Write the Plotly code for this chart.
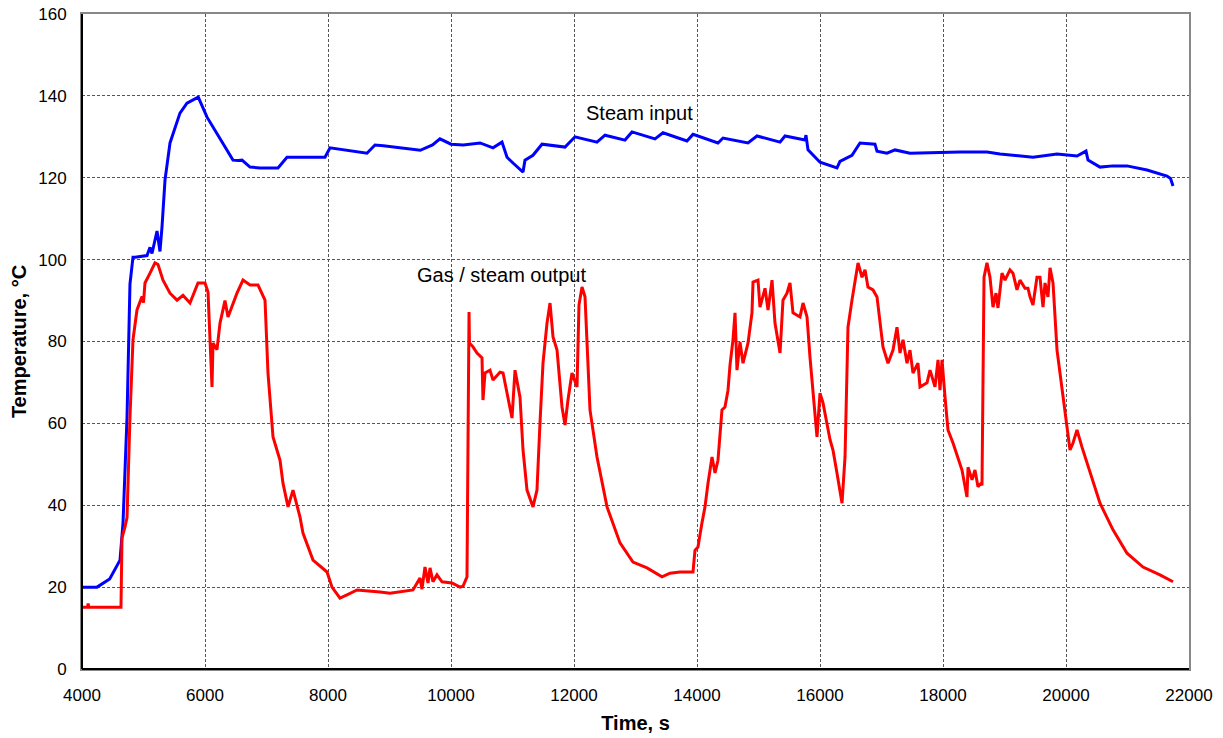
import plotly.graph_objects as go

# Steam input (blue)
steam_t = [4000, 4244, 4450, 4618, 4667, 4732, 4780, 4829, 4862, 5057, 5106, 5138, 5220, 5268, 5301,
           5350, 5431, 5593, 5707, 5870, 5890, 6033, 6293, 6455, 6540, 6602, 6732, 6894, 7187, 7333,
           7951, 8033, 8634, 8764, 8900, 9200, 9500, 9700, 9820, 10000, 10200, 10472, 10683, 10829,
           10911, 11008, 11171, 11203, 11333, 11480, 11854, 12016, 12374, 12504, 12829, 12943, 13317,
           13447, 13837, 13935, 14341, 14423, 14829, 14976, 15350, 15431, 15756, 15772, 15805, 16000,
           16276, 16325, 16520, 16650, 16894, 16927, 17089, 17220, 17463, 18276, 18715, 18927, 19463,
           19854, 20179, 20325, 20358, 20553, 20764, 20992, 21317, 21642, 21700, 21740]
steam_T = [20, 20, 22, 26.6, 35.7, 61.5, 94, 100.6, 100.6, 101, 103, 101.5, 107, 102, 108,
           119.5, 128.5, 135.8, 138.2, 139.5, 139.7, 134.8, 128.5, 124.3, 124.2, 124.3, 122.6, 122.4, 122.4, 125,
           125, 127.3, 126, 128, 127.8, 127.3, 126.7, 128, 129.5, 128.2, 128, 128.5, 127.3, 128.7,
           125, 123.6, 121.4, 124.3, 125.5, 128.2, 127.5, 130, 128.7, 130.4, 129.2, 131.2, 129.5,
           131, 129, 130.6, 128.5, 129.7, 128.5, 130.2, 128.7, 130.2, 129.2, 130.4, 126.8, 123.8,
           122.4, 124, 125.5, 128.5, 128.2, 126.5, 126, 126.8, 126, 126.3, 126.3, 125.8, 125,
           125.8, 125.3, 126.5, 124.3, 122.6, 122.9, 122.9, 121.9, 120.4, 119.8, 118]

# Gas / steam output (red)
gas_t = [4000, 4090, 4100, 4110, 4634, 4650, 4699, 4732, 4780, 4829, 4894, 4976, 5000, 5024, 5106,
         5187, 5236, 5317, 5431, 5545, 5642, 5756, 5886, 6000, 6049, 6114, 6130, 6195, 6244, 6325,
         6374, 6455, 6520, 6618, 6732, 6862, 6976, 7024, 7106, 7220, 7268, 7350, 7431, 7545, 7593,
         7756, 7984, 8065, 8195, 8309, 8472, 8846, 9008, 9382, 9496, 9528, 9577, 9626, 9659, 9707,
         9772, 9854, 10016, 10146, 10195, 10260, 10276, 10293, 10300, 10358, 10423, 10504, 10520,
         10553, 10634, 10683, 10797, 10846, 10911, 10992, 11041, 11122, 11171, 11236, 11333, 11398,
         11447, 11496, 11561, 11610, 11659, 11724, 11805, 11854, 11902, 11967, 12049, 12081, 12130,
         12179, 12260, 12374, 12537, 12748, 12959, 13187, 13431, 13561, 13724, 13935, 13967, 14016,
         14081, 14130, 14179, 14244, 14293, 14341, 14406, 14455, 14504, 14537, 14585, 14618, 14650,
         14699, 14748, 14829, 14894, 14911, 14992, 15024, 15106, 15155, 15220, 15268, 15350, 15398,
         15463, 15512, 15561, 15675, 15724, 15789, 15837, 15886, 15951, 16000, 16049, 16163, 16211,
         16276, 16358, 16407, 16455, 16520, 16569, 16618, 16683, 16732, 16780, 16862, 16927, 16976,
         17024, 17106, 17187, 17252, 17301, 17350, 17415, 17463, 17512, 17593, 17626, 17740, 17789,
         17870, 17919, 17951, 17984, 18033, 18081, 18163, 18244, 18309, 18390, 18407, 18472, 18520,
         18569, 18620, 18634, 18667, 18715, 18764, 18813, 18862, 18894, 18959, 19008, 19089, 19138,
         19203, 19252, 19333, 19382, 19415, 19463, 19528, 19577, 19626, 19659, 19707, 19740, 19789,
         19854, 19935, 20016, 20065, 20114, 20179, 20260, 20390, 20553, 20764, 20992, 21252, 21528,
         21740]
gas_T = [15.1, 15.1, 16, 15.1, 15.1, 32, 34.7, 37, 61.5, 80.4, 87.7, 91, 89.5, 94.3, 96.7,
         99.2, 98.8, 95, 91.8, 90.1, 91.3, 89.4, 94.3, 94.3, 92.1, 68.9, 79.6, 78, 84.5, 90,
         86, 89.4, 91.8, 95, 93.8, 93.8, 90.1, 72.3, 56.7, 51, 45.4, 39.6, 43.7, 37.1, 33.2,
         26.6, 23.7, 20, 17.3, 18.1, 19.3, 18.8, 18.5, 19.3, 22.2, 19.5, 24.9, 21, 24.7, 21.3,
         23, 21.3, 21, 20, 20.2, 22.5, 57.6, 87.2, 79.6, 78.7, 77.2, 76, 65.7,
         72.3, 73, 70.6, 72.5, 72.3, 67.4, 61.3, 73, 66.4, 53.5, 43.7, 39.6, 43.7,
         60.1, 74.7, 84.5, 89.4, 81.1, 77.9, 64, 59.6, 65.7, 72.3, 68.9, 88.9, 93.3,
         90.9, 63.3, 51.8, 39.6, 30.8, 26.1, 24.7, 22.5, 23.4, 23.7, 23.7, 29, 29.8,
         35.7, 39.6, 45.4, 51.8, 47.9, 51, 63.3, 64, 68.1, 74.3, 80.4, 87, 73,
         79.9, 74.7, 79.6, 87, 94.5, 95, 88.4, 93, 87.7, 95, 84.5, 77.2, 90.1,
         91.8, 94.3, 87, 86, 89.4, 86, 76.2, 68.1, 56.7, 67.4, 65, 56, 53.5,
         47.9, 40.5, 51.8, 83.5, 90.1, 94.3, 99.2, 95.7, 97.5, 93.3, 92.6, 90.9, 84.5,
         78.7, 74.7, 77.9, 83.5, 77.2, 80.4, 74.7, 77.9, 72.3, 74.7, 68.9, 69.9, 73,
         68.9, 75.5, 68.1, 75.5, 66.4, 58.4, 55.2, 51.8, 48.6, 42, 49.3, 46.2, 48.6,
         44.5, 45.4, 44.8, 95.7, 99.2, 95.7, 88.4, 91.8, 88.2, 96.7, 95, 97.5, 96.7,
         92.6, 95, 93, 93, 90.9, 88.9, 95.7, 95.7, 88.4, 94.3, 90.9, 98, 94.3, 77.9,
         68.1, 59.1, 53.5, 55.2, 58.4, 54.2, 47.9, 40.5, 34, 28.3, 24.9, 23, 21.3,
         20.5]

x_ticks = [4000, 6000, 8000, 10000, 12000, 14000, 16000, 18000, 20000, 22000]
x_ticklabels = [str(v) for v in x_ticks]
y_ticks = [0, 20, 40, 60, 80, 100, 120, 140, 160]

FONT = "Liberation Sans, Arial, sans-serif"

fig = go.Figure()
fig.add_trace(go.Scatter(x=steam_t, y=steam_T, mode="lines", name="Steam input",
                         line=dict(color="#0000FF", width=3)))
fig.add_trace(go.Scatter(x=gas_t, y=gas_T, mode="lines", name="Gas / steam output",
                         line=dict(color="#FF0000", width=3)))

fig.add_annotation(x=13073, y=135.8, text="Steam input", showarrow=False,
                   font=dict(family=FONT, size=20, color="black"))
fig.add_annotation(x=10829, y=96.2, text="Gas / steam output", showarrow=False,
                   font=dict(family=FONT, size=20, color="black"))

grid = dict(showgrid=True, gridcolor="#555555", gridwidth=1, griddash="3px,2px",
            showline=True, linecolor="#888888", linewidth=2, mirror=True,
            zeroline=False, ticks="", automargin=False,
            tickfont=dict(family=FONT, size=17, color="black"))

fig.update_xaxes(range=[4000, 22000], tickvals=x_ticks, ticktext=x_ticklabels, ticklabelstandoff=10,
                 title=dict(text="<b>Time, s</b>", font=dict(family=FONT, size=20, color="black"),
                            standoff=12), **grid)
fig.update_yaxes(range=[0, 160], tickvals=y_ticks, ticklabelstandoff=10,
                 title=dict(text="<b>Temperature, °C</b>", font=dict(family=FONT, size=20, color="black"),
                            standoff=6), **grid)

# black left and bottom frame lines
fig.add_shape(type="line", xref="paper", yref="paper", x0=0, x1=0, y0=0, y1=1,
              line=dict(color="black", width=2))
fig.add_shape(type="line", xref="paper", yref="paper", x0=0, x1=1, y0=0, y1=0,
              line=dict(color="black", width=2))

fig.update_layout(width=1223, height=738, margin=dict(l=82, r=34, t=14, b=69),
                  plot_bgcolor="white", paper_bgcolor="white", showlegend=False,
                  font=dict(family=FONT, color="black"))

fig.write_html("out.html")
